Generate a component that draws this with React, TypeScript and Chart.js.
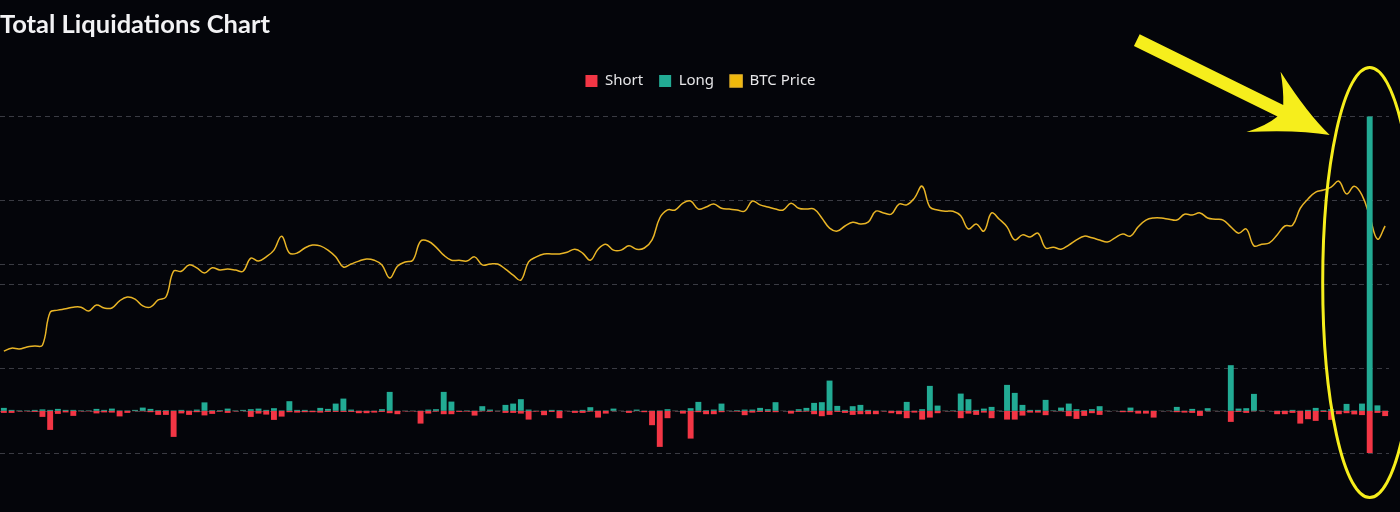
import { useEffect, useRef } from "react";
import { Chart, registerables } from "chart.js";

Chart.register(...registerables);

// ---------- data ----------
// one category per day, 2025-04-16 .. 2025-10-12
const firstDay = Date.UTC(2025, 3, 16);
const categories: string[] = Array.from({ length: 180 }, (_, i) =>
  new Date(firstDay + i * 86400000).toISOString().slice(0, 10)
);

// long liquidations, $M
const longLiq: number[] = [
  171, 57, 28, 28, 57, 86, 57, 114, 57, 57,
  28, 28, 114, 57, 131, 28, 28, 57, 188, 114,
  40, 40, 28, 57, 17, 74, 485, 40, 40, 131,
  28, 57, 97, 131, 57, 154, 28, 553, 57, 57,
  17, 171, 114, 416, 701, 74, 17, 17, 17, 97,
  1083, 17, 17, 17, 17, 74, 97, 1083, 530, 17,
  28, 17, 268, 74, 17, 342, 416, 667, 74, 17,
  17, 57, 40, 11, 17, 57, 211, 17, 28, 131,
  11, 17, 74, 17, 17, 28, 97, 17, 28, 154,
  513, 40, 74, 416, 17, 40, 74, 74, 171, 97,
  496, 11, 17, 97, 171, 456, 496, 1727, 285, 57,
  268, 342, 57, 17, 17, 17, 17, 513, 17, 97,
  1425, 302, 17, 28, 986, 667, 57, 131, 228, 17,
  1482, 1026, 342, 57, 57, 627, 28, 188, 416, 97,
  40, 97, 268, 17, 11, 17, 188, 17, 17, 17,
  11, 17, 228, 17, 114, 17, 154, 11, 17, 2605,
  131, 154, 969, 28, 6, 17, 17, 57, 17, 57,
  171, 40, 97, 17, 399, 28, 416, 16780, 314, 17,
];

// short liquidations, $M (drawn below zero)
const shortLiq: number[] = [
  -114, -114, -28, -28, -57, -342, -1083, -171, -86, -285,
  -28, -28, -143, -86, -97, -314, -114, -17, -28, -74,
  -228, -228, -1482, -143, -228, -74, -257, -171, -40, -114,
  -28, -17, -342, -154, -211, -513, -325, -74, -97, -74,
  -74, -97, -57, -57, -57, -57, -131, -131, -97, -57,
  -131, -188, -28, -28, -724, -154, -40, -188, -188, -57,
  -40, -268, -28, -40, -17, -114, -114, -154, -496, -40,
  -245, -57, -416, -17, -114, -114, -40, -382, -154, -17,
  -11, -114, -17, -74, -815, -2052, -416, -17, -154, -1579,
  -74, -188, -188, -74, -17, -40, -245, -97, -57, -57,
  -74, -11, -154, -57, -40, -188, -302, -228, -57, -114,
  -228, -188, -188, -188, -28, -131, -188, -416, -97, -496,
  -382, -131, -17, -28, -416, -154, -228, -97, -416, -17,
  -496, -496, -268, -97, -97, -245, -17, -28, -302, -456,
  -285, -131, -228, -17, -11, -74, -74, -154, -154, -382,
  -11, -17, -74, -97, -114, -285, -17, -11, -17, -627,
  -57, -114, -17, -17, -6, -188, -188, -114, -724, -473,
  -570, -57, -513, -188, -131, -200, -239, -2420, -114, -296,
];

// BTC price, USD
const btcPrice: number[] = [
  84400, 85100, 84900, 85400, 85600, 85800, 93600, 94100, 94400, 94800,
  94800, 93900, 95300, 94600, 94600, 96300, 97200, 96700, 95100, 94800,
  96500, 97200, 103300, 103300, 104800, 104100, 102900, 104100, 103600, 103800,
  103600, 103300, 106400, 105700, 106700, 108300, 111600, 107600, 107600, 108800,
  109500, 109300, 108300, 106700, 104300, 105000, 105700, 106200, 105900, 104800,
  101700, 104500, 105500, 105900, 110400, 110400, 109000, 107100, 105900, 105900,
  105700, 106700, 104800, 105000, 105000, 103800, 102400, 101200, 105500, 106700,
  107400, 107400, 107400, 107800, 108500, 107600, 105900, 108500, 109700, 108300,
  108300, 109300, 108500, 108800, 110700, 115900, 117800, 117800, 119400, 119900,
  118000, 118500, 119200, 118200, 118000, 117800, 117500, 119900, 119000, 118500,
  118000, 117800, 119400, 118200, 118000, 118000, 115900, 113500, 112800, 114000,
  114900, 114500, 114900, 117500, 117100, 116800, 119200, 119000, 120600, 123400,
  118500, 117800, 117500, 117500, 116400, 113300, 114500, 112800, 117100, 115600,
  113800, 110700, 111900, 111400, 112300, 108800, 109000, 108500, 109500, 110700,
  111600, 111200, 110700, 110200, 111200, 112100, 111600, 113800, 115400, 115900,
  115900, 115600, 115400, 116800, 116600, 117100, 115900, 115600, 115400, 113800,
  112300, 113300, 109300, 109700, 110000, 111900, 114000, 114200, 118200, 120400,
  122000, 122500, 123200, 124600, 121600, 123400, 121300, 116300, 110900, 114000,
];

// grid ticks (axis labels are cropped out of the picture)
const liqTicks: number[] = [-2400, 2400, 7200, 12000, 16800];
const priceTicks: number[] = [70000, 105000];

// ---------- styles ----------
const BG = "#04050a";
const RED = "#f23645";
const TEAL = "#22ab94";
const GOLD = "#e9b526";
const GRID = "#3a3b43";
const ANNO = "#f6ee1c";

const legendGap = {
  id: "legendGap",
  beforeInit(chart: any) {
    const legend = chart.legend;
    if (!legend) return;
    const fit = legend.fit;
    legend.fit = function () {
      fit.call(this);
      this.height += 17.5;
    };
  },
  afterLayout(chart: any) {
    const legend = chart.legend;
    if (!legend) return;
    legend.left += 6;
    legend.right += 6;
  },
};

const annotations = {
  id: "annotations",
  afterDraw(chart: any) {
    const { ctx, chartArea, scales } = chart;
    const peak = longLiq.indexOf(Math.max(...longLiq));
    const cx = scales.x.getPixelForValue(peak);
    const cy = (chartArea.top + chartArea.bottom) / 2 - 2;
    ctx.save();
    // ellipse around the spike
    ctx.strokeStyle = ANNO;
    ctx.lineWidth = 3;
    ctx.beginPath();
    ctx.ellipse(cx, cy, 47, 215, 0, 0, Math.PI * 2);
    ctx.stroke();
    // arrow pointing at it
    const tipX = cx - 40;
    const tipY = 135;
    const ang = Math.atan2(95, 193);
    const len = 215;
    ctx.translate(tipX - len * Math.cos(ang), tipY - len * Math.sin(ang));
    ctx.rotate(ang);
    ctx.fillStyle = ANNO;
    ctx.beginPath();
    ctx.moveTo(0, -6.5);
    ctx.lineTo(160, -6.5);
    ctx.quadraticCurveTo(154, -20, 143, -35);
    ctx.quadraticCurveTo(186, -9, len, 0);
    ctx.quadraticCurveTo(184, 9, 139, 34);
    ctx.quadraticCurveTo(154, 20, 160, 6.5);
    ctx.lineTo(0, 6.5);
    ctx.closePath();
    ctx.fill();
    ctx.restore();
  },
};

export default function App() {
  const ref = useRef<HTMLCanvasElement>(null);

  useEffect(() => {
    if (!ref.current) return;
    const chart = new Chart(ref.current, {
      type: "bar",
      data: {
        labels: categories,
        datasets: [
          {
            type: "bar",
            label: "Short",
            data: shortLiq,
            backgroundColor: RED,
            borderWidth: 0,
            stack: "liq",
            yAxisID: "y",
            order: 1,
            barPercentage: 0.9,
            categoryPercentage: 0.85,
          },
          {
            type: "bar",
            label: "Long",
            data: longLiq,
            backgroundColor: TEAL,
            borderWidth: 0,
            stack: "liq",
            yAxisID: "y",
            order: 1,
            barPercentage: 0.9,
            categoryPercentage: 0.85,
          },
          {
            type: "line",
            label: "BTC Price",
            data: btcPrice,
            borderColor: GOLD,
            backgroundColor: "#f0b90b",
            borderWidth: 1.5,
            pointRadius: 0,
            tension: 0.4,
            fill: false,
            yAxisID: "y1",
            order: 2,
          } as any,
        ],
      },
      options: {
        animation: false,
        responsive: true,
        maintainAspectRatio: false,
        events: [],
        layout: { padding: { left: 5, right: 11, top: 0, bottom: 59 } },
        plugins: {
          title: {
            display: true,
            text: "Total Liquidations Chart",
            align: "start",
            color: "#f2f2f4",
            font: { family: "Lato", size: 25.5, weight: "bold" },
            padding: { top: 9, bottom: 18 },
          },
          legend: {
            display: true,
            position: "top",
            align: "center",
            labels: {
              color: "#e6e6e8",
              font: { family: "'Noto Sans'", size: 15 },
              boxWidth: 12,
              boxHeight: 12,
              padding: 16,
            },
          },
          tooltip: { enabled: false },
        },
        scales: {
          x: {
            display: false,
            stacked: true,
            offset: true,
            grid: { display: false },
          },
          y: {
            position: "left",
            stacked: true,
            min: -2400,
            max: 16800,
            ticks: { display: false },
            grid: { color: GRID, lineWidth: 1, drawTicks: false },
            border: { display: false, dash: [5, 4] },
            afterBuildTicks: (axis: any) => {
              axis.ticks = liqTicks.map((v) => ({ value: v }));
            },
          },
          y1: {
            position: "right",
            min: 60300,
            max: 140000,
            ticks: { display: false },
            grid: { color: GRID, lineWidth: 1, drawTicks: false },
            border: { display: false, dash: [5, 4] },
            afterBuildTicks: (axis: any) => {
              axis.ticks = priceTicks.map((v) => ({ value: v }));
            },
          },
        },
      },
      plugins: [legendGap, annotations],
    });
    return () => chart.destroy();
  }, []);

  return (
    <div
      style={{
        position: "absolute",
        left: 0,
        top: 0,
        width: 1400,
        height: 512,
        background: BG,
        overflow: "hidden",
      }}
    >
      <div style={{ position: "absolute", left: -5, top: 0, width: 1405, height: 512 }}>
        <canvas ref={ref} />
      </div>
    </div>
  );
}
